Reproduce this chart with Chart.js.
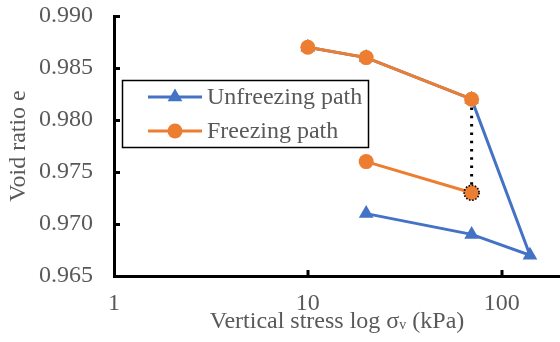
<!DOCTYPE html>
<html>
<head>
<meta charset="utf-8">
<script src="https://cdn.jsdelivr.net/npm/chart.js@4.4.1/dist/chart.umd.min.js"></script>
<style>
  html, body { margin: 0; padding: 0; background: #fff; }
  #wrap { width: 560px; height: 342px; position: relative; }
</style>
</head>
<body>
<div id="wrap"><canvas id="c" width="560" height="342"></canvas></div>
<script>
// Vertical stress (kPa) and void ratio along each path
const unfreezingStress = [10, 20, 70, 140, 70, 20];
const unfreezingVoid   = [0.987, 0.986, 0.982, 0.967, 0.969, 0.971];
const freezingStress   = [10, 20, 70];
const freezingVoid     = [0.987, 0.986, 0.982];
const frozenStress     = [70, 20];
const frozenVoid       = [0.973, 0.976];
const stressTicks      = [1, 10, 100];
const seriesNames      = ['Unfreezing path', 'Freezing path'];
const xTitleParts      = ['Vertical stress log σ', 'v', ' (kPa)'];
const yTitle           = 'Void ratio e';

const BLUE = '#4472C4';
const ORANGE = '#ED7D31';
const TEXT = '#595959';
const FONT = "'Liberation Serif', 'Times New Roman', serif";
const FS = 24;

const pts = (xs, ys) => xs.map((x, i) => ({ x, y: ys[i] }));

Chart.defaults.font.family = FONT;
Chart.defaults.color = TEXT;

const datasets = [
  { // frozen point with dotted outline (drawn on top)
    label: 'frozen-end',
    data: pts([frozenStress[0]], [frozenVoid[0]]),
    showLine: false,
    pointStyle: 'circle', pointRadius: 7.5,
    pointBackgroundColor: ORANGE, pointBorderColor: '#000', pointBorderWidth: 1.6,
    order: 0
  },
  {
    label: seriesNames[1],
    data: pts(freezingStress, freezingVoid),
    borderColor: ORANGE, borderWidth: 3,
    pointStyle: 'circle', pointRadius: 7.5,
    pointBackgroundColor: ORANGE, pointBorderColor: ORANGE, pointBorderWidth: 0,
    order: 1
  },
  {
    label: 'freezing-unload',
    data: pts(frozenStress, frozenVoid),
    borderColor: ORANGE, borderWidth: 3,
    pointStyle: 'circle', pointRadius: [0, 7.5],
    pointBackgroundColor: ORANGE, pointBorderColor: ORANGE, pointBorderWidth: 0,
    order: 1
  },
  { // drop at constant stress
    label: 'drop',
    data: pts([freezingStress[2], frozenStress[0]], [freezingVoid[2], frozenVoid[0]]),
    borderColor: '#000', borderWidth: 3,
    borderDash: [2.5, 5.8], borderCapStyle: 'butt',
    pointRadius: 0,
    order: 2
  },
  {
    label: seriesNames[0],
    data: pts(unfreezingStress, unfreezingVoid),
    borderColor: BLUE, borderWidth: 3,
    pointStyle: 'triangle', pointRadius: 8.5,
    pointBackgroundColor: BLUE, pointBorderColor: BLUE, pointBorderWidth: 0,
    order: 3
  }
];

// dotted outline for the frozen end point
const dottedPoint = {
  id: 'dottedPoint',
  beforeDatasetDraw(chart, args) {
    if (args.index === 0) { chart.ctx.save(); chart.ctx.setLineDash([1.6, 1.6]); }
  },
  afterDatasetDraw(chart, args) {
    if (args.index === 0) chart.ctx.restore();
  }
};

// inward tick marks
const innerTicks = {
  id: 'innerTicks',
  afterDatasetsDraw(chart) {
    const { ctx, chartArea: a, scales: { x, y } } = chart;
    ctx.save();
    ctx.strokeStyle = '#000';
    ctx.lineWidth = 3;
    ctx.beginPath();
    stressTicks.slice(1).forEach(v => {
      const px = Math.round(x.getPixelForValue(v));
      ctx.moveTo(px, a.bottom);
      ctx.lineTo(px, a.bottom - 6);
    });
    y.ticks.forEach(t => {
      const py = Math.round(y.getPixelForValue(t.value)) + 0.5;
      ctx.moveTo(a.left, py);
      ctx.lineTo(a.left + 6, py);
    });
    ctx.stroke();
    ctx.restore();
  }
};

// x axis title with small subscript
const xTitle = {
  id: 'xTitle',
  afterDraw(chart) {
    const { ctx, chartArea: a } = chart;
    ctx.save();
    ctx.fillStyle = TEXT;
    ctx.textBaseline = 'alphabetic';
    const big = `${FS}px ${FONT}`, small = `${Math.round(FS * 0.6)}px ${FONT}`;
    ctx.font = big;
    const w0 = ctx.measureText(xTitleParts[0]).width;
    const w2 = ctx.measureText(xTitleParts[2]).width;
    ctx.font = small;
    const w1 = ctx.measureText(xTitleParts[1]).width;
    let xs = (a.left + a.right) / 2 - (w0 + w1 + w2) / 2;
    const base = 328;
    ctx.font = big; ctx.fillText(xTitleParts[0], xs, base); xs += w0;
    ctx.font = small; ctx.fillText(xTitleParts[1], xs, base + 1); xs += w1;
    ctx.font = big; ctx.fillText(xTitleParts[2], xs, base);
    ctx.restore();
  }
};

// boxed legend inside the plot
const boxLegend = {
  id: 'boxLegend',
  afterDraw(chart) {
    const { ctx } = chart;
    ctx.save();
    ctx.fillStyle = '#fff';
    ctx.fillRect(122, 80, 246, 67);
    ctx.strokeStyle = '#000';
    ctx.lineWidth = 1.5;
    ctx.strokeRect(122.5, 80.5, 246, 67);
    const rows = [
      { name: seriesNames[0], color: BLUE, style: 'triangle', r: 8.5, y: 97 },
      { name: seriesNames[1], color: ORANGE, style: 'circle', r: 7.5, y: 131 }
    ];
    rows.forEach(r => {
      ctx.strokeStyle = r.color;
      ctx.lineWidth = 3;
      ctx.beginPath();
      ctx.moveTo(148, r.y); ctx.lineTo(202, r.y);
      ctx.stroke();
      ctx.fillStyle = r.color;
      Chart.helpers.drawPoint(ctx, { pointStyle: r.style, radius: r.r, rotation: 0, borderWidth: 0 }, 175, r.y);
      ctx.fillStyle = TEXT;
      ctx.font = `${FS}px ${FONT}`;
      ctx.textBaseline = 'middle';
      ctx.fillText(r.name, 207, r.y + 1);
    });
    ctx.restore();
  }
};

new Chart(document.getElementById('c'), {
  type: 'line',
  data: { datasets },
  options: {
    responsive: false,
    animation: false,
    devicePixelRatio: 1,
    layout: { autoPadding: false, padding: { top: 16, right: 0, bottom: 0, left: 4 } },
    plugins: { legend: { display: false }, tooltip: { enabled: false } },
    elements: { line: { tension: 0 } },
    scales: {
      x: {
        type: 'logarithmic',
        min: 1, max: 200,
        afterBuildTicks: s => { s.ticks = stressTicks.map(v => ({ value: v })); },
        afterFit: s => { s.height = 66; s.paddingLeft = 0; s.paddingRight = 0; },
        ticks: {
          callback: v => String(v),
          font: { size: FS, family: FONT }, color: TEXT,
          padding: 13, maxRotation: 0, autoSkip: false
        },
        grid: { display: true, drawOnChartArea: false, drawTicks: false },
        border: { display: true, color: '#000', width: 3 }
      },
      y: {
        min: 0.965, max: 0.990,
        afterFit: s => { s.width = 110; s.paddingTop = 0; s.paddingBottom = 0; },
        ticks: {
          stepSize: 0.005,
          callback: v => v.toFixed(3),
          font: { size: FS, family: FONT }, color: TEXT,
          padding: 21
        },
        grid: { display: true, drawOnChartArea: false, drawTicks: false },
        border: { display: true, color: '#000', width: 3 },
        title: { display: true, text: yTitle, font: { size: FS, family: FONT }, color: TEXT, padding: 0 }
      }
    }
  },
  plugins: [dottedPoint, innerTicks, xTitle, boxLegend]
});
</script>
</body>
</html>
